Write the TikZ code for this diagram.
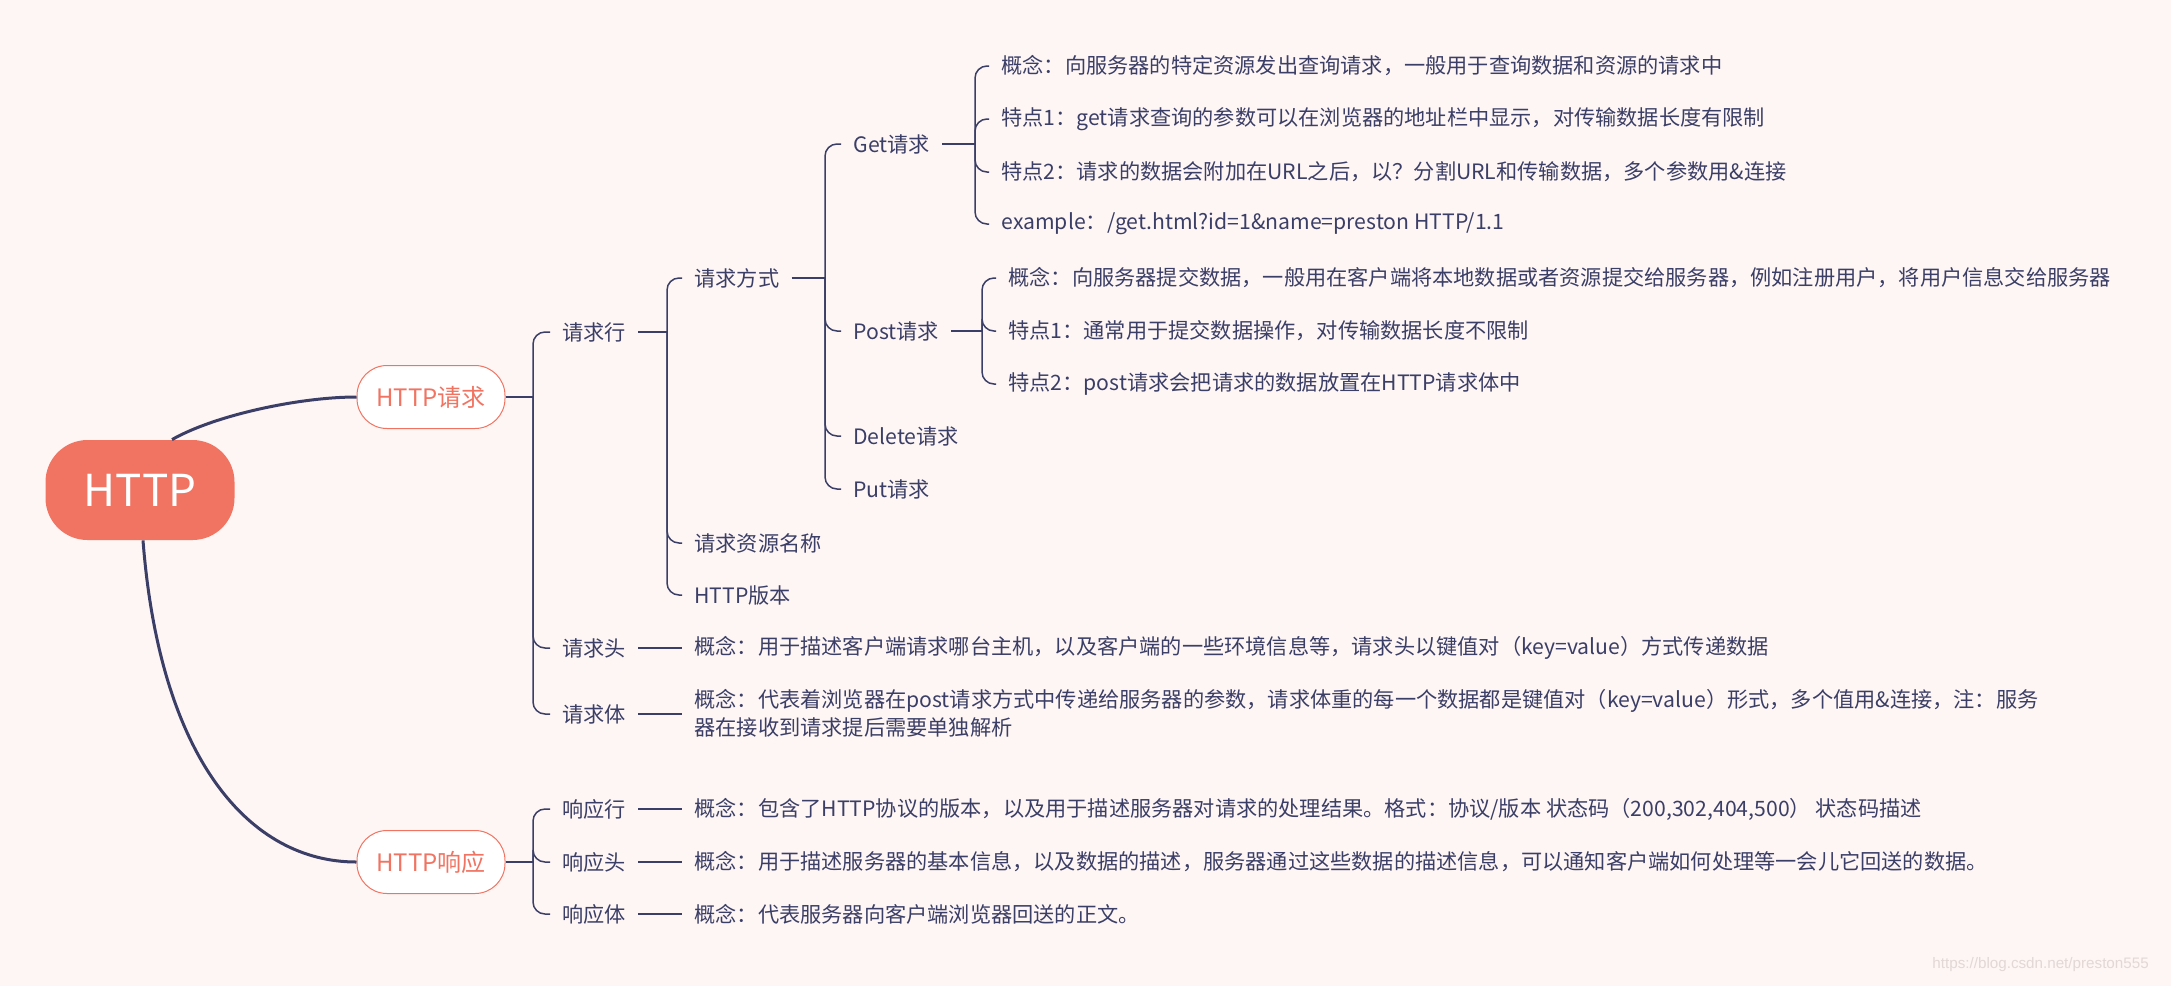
\documentclass[tikz,border=0pt]{standalone}
\usepackage{fontspec}
\setmainfont{Noto Sans CJK SC}
\newfontfamily\markfont{Liberation Sans}
\usetikzlibrary{positioning,calc}
\definecolor{httpBack}{RGB}{254,246,244}
\definecolor{httpNavy}{RGB}{59,62,102}
\definecolor{httpSalmon}{RGB}{241,116,98}
\definecolor{httpMark}{RGB}{226,216,214}

\begin{document}
\begin{tikzpicture}[
  x=0.5pt, y=-0.5pt,
  root/.style={
    fill=httpSalmon,
    text=white,
    rounded corners=21pt,
    minimum width=94.5pt,
    minimum height=50pt,
    font=\fontsize{22pt}{26pt}\selectfont
  },
  topic/.style={
    draw=httpSalmon,
    fill=white,
    text=httpSalmon,
    line width=0.5pt,
    rounded corners=15pt,
    minimum width=74pt,
    minimum height=31.5pt,
    font=\fontsize{12pt}{14pt}\selectfont
  },
  leaf/.style={
    anchor=west,
    inner xsep=6pt,
    inner ysep=2pt,
    align=left,
    text=httpNavy,
    font=\fontsize{10.6pt}{14pt}\selectfont
  },
  mainline/.style={httpNavy,line width=1.5pt},
  brace/.style={httpNavy,line width=0.75pt,rounded corners=6pt},
  wmark/.style={anchor=west,inner sep=0pt,text=httpMark,font=\markfont\fontsize{7.6pt}{9pt}\selectfont}
]
  \fill[httpBack] (0,0) rectangle (2171,986);
  \useasboundingbox (0,0) rectangle (2171,986);

  % root and the two main topics
  \node[root] (http) at (140,490) {HTTP};
  \node[topic] (req) at (431,397) {HTTP请求};
  \node[topic] (resp) at (431,862) {HTTP响应};
  \draw[mainline] ($(http.north)+(32,0)$) .. controls (215,415) and (300,397) .. (req.west);
  \draw[mainline] ($(http.south)+(3,0)$) .. controls (160,760) and (250,862) .. (resp.west);

  % HTTP请求
  \node[leaf] (rqline) at (550,332) {请求行};
  \node[leaf] (rqhead) at (550,648) {请求头};
  \node[leaf] (rqbody) at (550,714) {请求体};
  \coordinate (rb) at (533,397);
  \draw[brace] (req.east) -- (rb);
  \foreach \c in {rqline,rqhead,rqbody} \draw[brace] (rb) |- (\c.west);

  % 请求行
  \node[leaf] (method) at (682,278) {请求方式};
  \node[leaf] (resname) at (682,543) {请求资源名称};
  \node[leaf] (version) at (682,595) {HTTP版本};
  \coordinate (lb) at (667,332);
  \draw[brace] (rqline.east) -- (lb);
  \foreach \c in {method,resname,version} \draw[brace] (lb) |- (\c.west);

  % 请求方式
  \node[leaf] (get) at (841,144) {Get请求};
  \node[leaf] (post) at (841,331) {Post请求};
  \node[leaf] (delete) at (841,436) {Delete请求};
  \node[leaf] (put) at (841,489) {Put请求};
  \coordinate (mb) at (825,278);
  \draw[brace] (method.east) -- (mb);
  \foreach \c in {get,post,delete,put} \draw[brace] (mb) |- (\c.west);

  % Get请求
  \node[leaf] (getA) at (989,66) {概念：向服务器的特定资源发出查询请求，一般用于查询数据和资源的请求中};
  \node[leaf] (getB) at (989,119) {特点1：get请求查询的参数可以在浏览器的地址栏中显示，对传输数据长度有限制};
  \node[leaf] (getC) at (989,172) {特点2：请求的数据会附加在URL之后，以？分割URL和传输数据，多个参数用\&连接};
  \node[leaf] (getD) at (989,224) {example：/get.html?id=1\&name=preston HTTP/1.1};
  \coordinate (gb) at (975,144);
  \draw[brace] (get.east) -- (gb);
  \foreach \c in {getA,getB,getC,getD} \draw[brace] (gb) |- (\c.west);

  % Post请求
  \node[leaf] (postA) at (996,278) {概念：向服务器提交数据，一般用在客户端将本地数据或者资源提交给服务器，例如注册用户，将用户信息交给服务器};
  \node[leaf] (postB) at (996,331) {特点1：通常用于提交数据操作，对传输数据长度不限制};
  \node[leaf] (postC) at (996,384) {特点2：post请求会把请求的数据放置在HTTP请求体中};
  \coordinate (pb) at (982,331);
  \draw[brace] (post.east) -- (pb);
  \foreach \c in {postA,postB,postC} \draw[brace] (pb) |- (\c.west);

  % 请求头, 请求体
  \node[leaf] (rqheadA) at (682,648) {概念：用于描述客户端请求哪台主机，以及客户端的一些环境信息等，请求头以键值对（key=value）方式传递数据};
  \node[leaf] (rqbodyA) at (682,713) {概念：代表着浏览器在post请求方式中传递给服务器的参数，请求体重的每一个数据都是键值对（key=value）形式，多个值用\&连接，注：服务\\器在接收到请求提后需要单独解析};
  \draw[brace] (rqhead.east) -- (rqheadA.west);
  \draw[brace] (rqbody.east) -- (rqbody.east -| rqbodyA.west);

  % HTTP响应
  \node[leaf] (rsline) at (550,809) {响应行};
  \node[leaf] (rshead) at (550,862) {响应头};
  \node[leaf] (rsbody) at (550,914) {响应体};
  \coordinate (sb) at (533,862);
  \draw[brace] (resp.east) -- (sb);
  \foreach \c in {rsline,rshead,rsbody} \draw[brace] (sb) |- (\c.west);

  \node[leaf] (rslineA) at (682,809) {概念：包含了HTTP协议的版本，以及用于描述服务器对请求的处理结果。格式：协议/版本 状态码（200,302,404,500） 状态码描述};
  \node[leaf] (rsheadA) at (682,862) {概念：用于描述服务器的基本信息，以及数据的描述，服务器通过这些数据的描述信息，可以通知客户端如何处理等一会儿它回送的数据。};
  \node[leaf] (rsbodyA) at (682,914) {概念：代表服务器向客户端浏览器回送的正文。};
  \draw[brace] (rsline.east) -- (rslineA.west);
  \draw[brace] (rshead.east) -- (rsheadA.west);
  \draw[brace] (rsbody.east) -- (rsbodyA.west);

  % watermark
  \node[wmark] (mark) at (1932,965) {https://blog.csdn.net/preston555};
\end{tikzpicture}
\end{document}
